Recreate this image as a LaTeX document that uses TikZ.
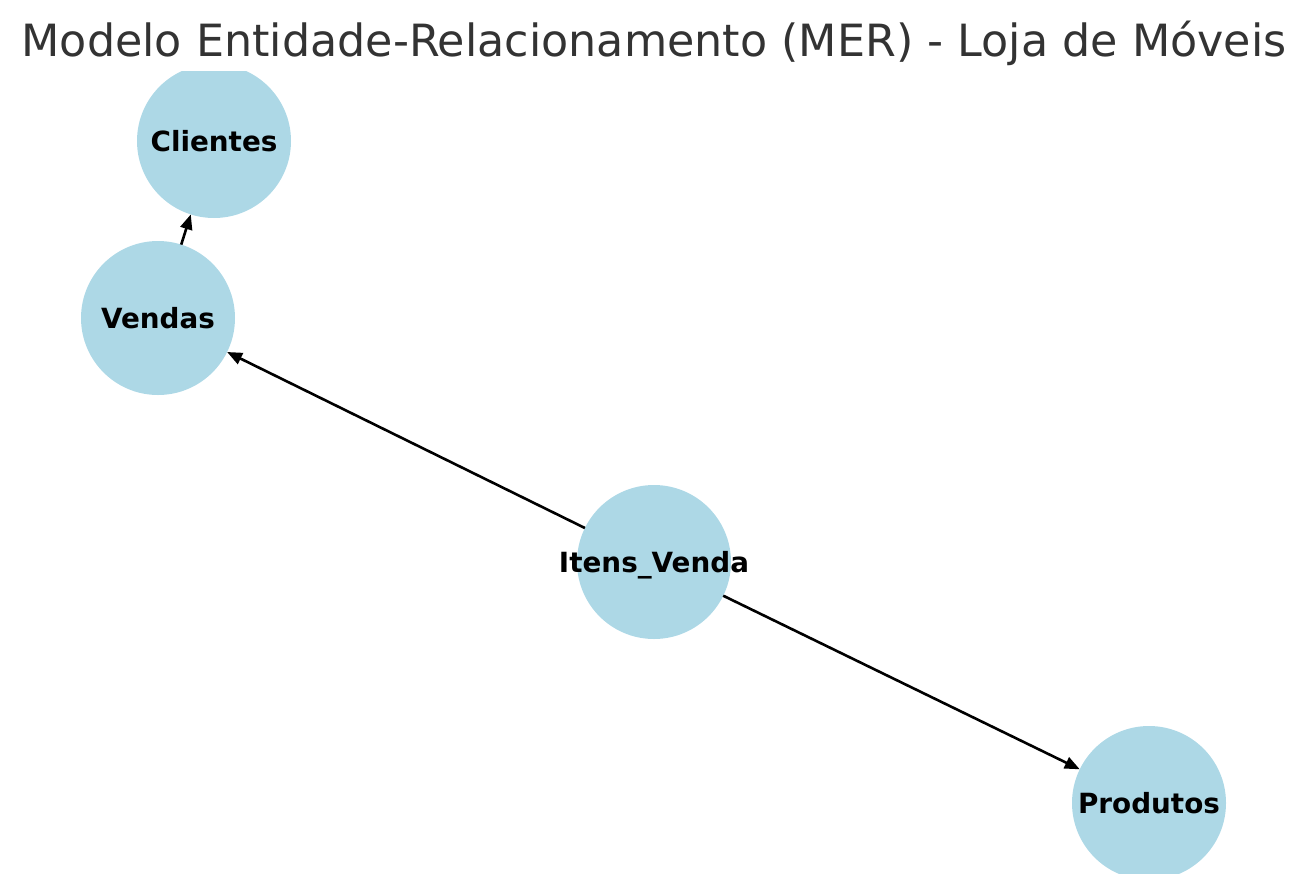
\documentclass[tikz,border=0pt]{standalone}
\usepackage{fontspec}
\setmainfont{DejaVu Sans}
\usetikzlibrary{arrows.meta}
\definecolor{nodeblue}{HTML}{ADD8E6}
\definecolor{titlegray}{HTML}{333333}
\newcommand{\lbl}[1]{\makebox[0pt]{#1}}
\tikzset{
  entity/.style={circle, fill=nodeblue, minimum size=154pt, inner sep=0pt, outer sep=0pt,
    font=\fontsize{27.8}{30}\selectfont\bfseries, text height=20pt, text depth=0pt},
  rel/.style={-{Triangle[length=15pt,width=12pt]}, line width=2.6pt, black}
}
\begin{document}
\begin{tikzpicture}[x=1pt,y=-1pt]
\useasboundingbox (0,0) rectangle (1307,892);
\node[anchor=base, text=titlegray, font=\fontsize{44.4}{50}\selectfont, inner sep=0pt] (title) at (654,56) {Modelo Entidade-Relacionamento (MER) - Loja de Móveis};
\begin{scope}
\clip (0,71) rectangle (1307,873);
\node[entity] (clientes) at (214,141) {\lbl{Clientes}};
\node[entity] (vendas) at (158,318) {\lbl{Vendas}};
\node[entity] (itens) at (654,562) {\lbl{Itens\_Venda}};
\node[entity] (produtos) at (1149,803) {\lbl{Produtos}};
\end{scope}
\draw[rel] (vendas) -- (clientes);
\draw[rel] (itens) -- (vendas);
\draw[rel] (itens) -- (produtos);
\end{tikzpicture}
\end{document}
